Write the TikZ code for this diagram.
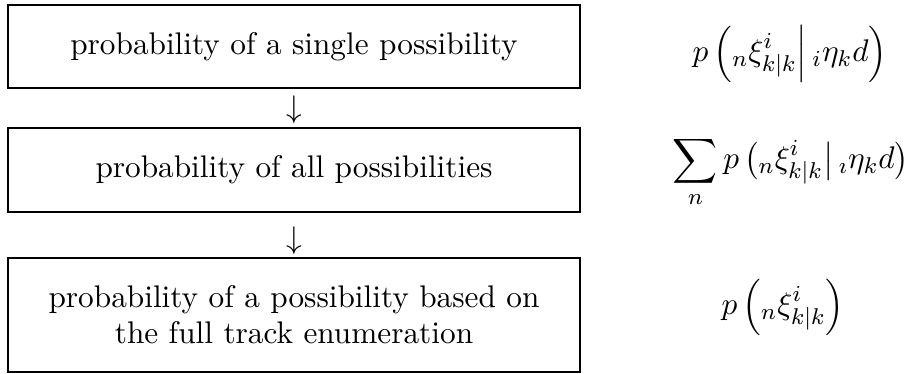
\documentclass[tikz,border=0pt]{standalone}
\usepackage{amsmath}
\begin{document}
\begin{tikzpicture}[x=0.35pt,y=-0.35pt,
  font=\fontsize{10.95}{12.6}\selectfont,
  stepbox/.style={draw,line width=0.6pt,inner sep=0pt,align=center,
    minimum width=572*0.35pt},
  formula/.style={inner sep=0pt},
  flowarrow/.style={inner sep=0pt}]
\useasboundingbox (0,0) rectangle (908,374);
% flow boxes
\node[stepbox,minimum height=83*0.35pt] (b1) at (294,46.5)
  {probability of a single possibility};
\node[stepbox,minimum height=84*0.35pt] (b2) at (294,170)
  {probability of all possibilities};
\node[stepbox,minimum height=114*0.35pt] (b3) at (294,315)
  {probability of a possibility based on\\the full track enumeration};
% arrows between the boxes
\path (b1.south) -- (b2.north) node[flowarrow,pos=0.55] (a1) {$\downarrow$};
\path (b2.south) -- (b3.north) node[flowarrow,pos=0.62] (a2) {$\downarrow$};
% formulas
\node[formula] (f1) at (790,54)
  {$\displaystyle p\left({}_{n}\xi^{i}_{k|k}\middle|\,{}_{i}\eta_{k}d\right)$};
\node[formula] (f2) at (791,172)
  {$\displaystyle \sum_{n} p\,\bigl({}_{n}\xi^{i}_{k|k}\bigr|\,{}_{\imath}\eta_{k}d\bigr)$};
\node[formula] (f3) at (783,307)
  {$\displaystyle p\left({}_{n}\xi^{i}_{k|k}\right)$};
\end{tikzpicture}
\end{document}
